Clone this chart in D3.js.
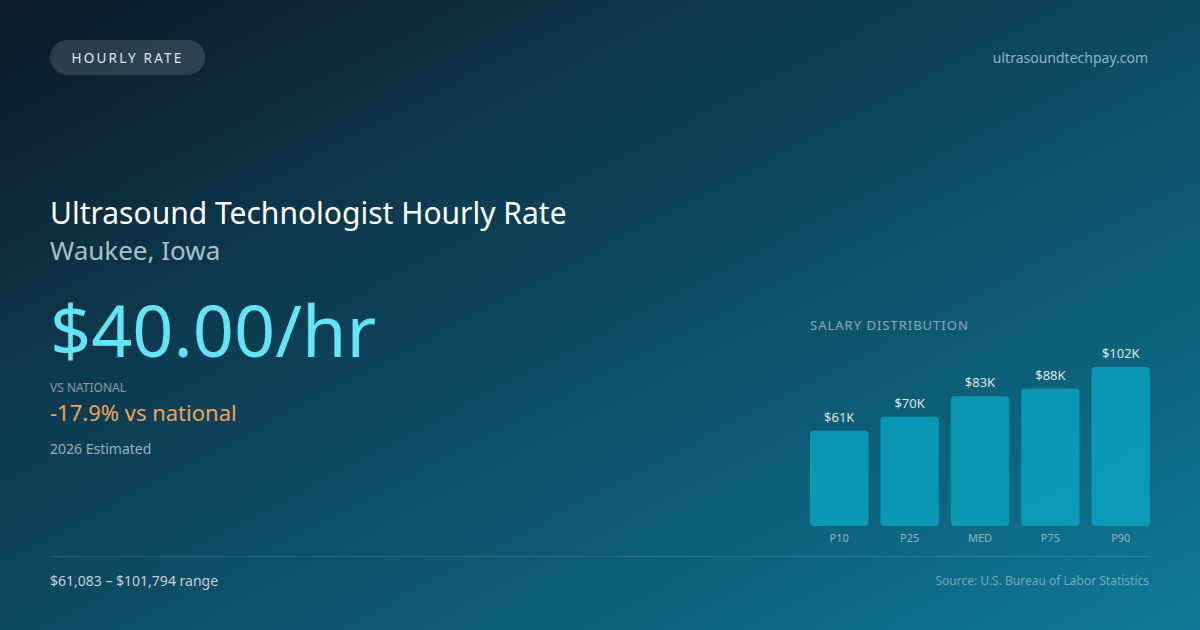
<!DOCTYPE html>
<html><head><meta charset="utf-8">
<script src="https://cdn.jsdelivr.net/npm/d3@7"></script>
<style>html,body{margin:0;padding:0;background:#0f1b2a;}svg{display:block;font-family:"Noto Sans",sans-serif;}</style>
</head><body>
<script>
const categories = ["P10","P25","MED","P75","P90"];
const values = [61083, 70000, 83000, 88000, 101794];
const valueLabels = ["$61K","$70K","$83K","$88K","$102K"];

const W = 1200, H = 630;
const svg = d3.select("body").append("svg").attr("width", W).attr("height", H);
const defs = svg.append("defs");
const g = defs.append("linearGradient").attr("id","bg").attr("x1","0").attr("y1","0").attr("x2","1").attr("y2","1");
g.append("stop").attr("offset","0%").attr("stop-color","#0d1a28");
g.append("stop").attr("offset","50%").attr("stop-color","#0d4a62");
g.append("stop").attr("offset","100%").attr("stop-color","#0f7a96");
svg.append("rect").attr("width",W).attr("height",H).attr("fill","url(#bg)");

// pill
svg.append("rect").attr("x",50).attr("y",40).attr("width",155).attr("height",35).attr("rx",17.5)
  .attr("fill","rgba(255,255,255,0.13)");
svg.append("text").attr("x",127.5).attr("y",62.5).attr("text-anchor","middle")
  .attr("font-size",13.5).attr("letter-spacing","2.2").attr("fill","#dfe8ee").text("HOURLY RATE");

svg.append("text").attr("x",1148).attr("y",63).attr("text-anchor","end").attr("font-size",14)
  .attr("fill","#86b6c8").text("ultrasoundtechpay.com");

svg.append("text").attr("x",50).attr("y",224).attr("font-size",30).attr("fill","#ffffff")
  .text("Ultrasound Technologist Hourly Rate");
svg.append("text").attr("x",50).attr("y",260).attr("font-size",26).attr("fill","#a9c0cc")
  .text("Waukee, Iowa");
svg.append("text").attr("x",50).attr("y",357).attr("font-size",72).attr("fill","#67e3f7")
  .text("$40.00/hr");
svg.append("text").attr("x",50).attr("y",392).attr("font-size",12).attr("fill","rgba(255,255,255,0.5)")
  .text("VS NATIONAL");
svg.append("text").attr("x",50).attr("y",421).attr("font-size",22).attr("fill","#eea35c")
  .text("-17.9% vs national");
svg.append("text").attr("x",50).attr("y",454).attr("font-size",14).attr("fill","#97afbc")
  .text("2026 Estimated");

// chart
svg.append("text").attr("x",810).attr("y",330).attr("font-size",13).attr("letter-spacing","1")
  .attr("fill","rgba(255,255,255,0.5)").text("SALARY DISTRIBUTION");

const x = d3.scaleBand().domain(categories).range([810,1150]).paddingInner(0.17).paddingOuter(0);
const y = d3.scaleLinear().domain([0, d3.max(values)]).range([526, 367]);

const bars = svg.append("g");
bars.selectAll("rect").data(values).join("rect")
  .attr("x",(d,i)=>x(categories[i])).attr("width",x.bandwidth())
  .attr("y",d=>y(d)).attr("height",d=>y(0)-y(d)).attr("rx",4)
  .attr("fill","#0aa5c2").attr("fill-opacity",0.8);
bars.selectAll("text.v").data(values).join("text").attr("class","v")
  .attr("x",(d,i)=>x(categories[i])+x.bandwidth()/2).attr("y",d=>y(d)-9)
  .attr("text-anchor","middle").attr("font-size",13).attr("fill","#d8e6ec")
  .text((d,i)=>valueLabels[i]);

const xAxis = svg.append("g").attr("transform","translate(0,526)")
  .call(d3.axisBottom(x).tickSize(0).tickPadding(8));
xAxis.select(".domain").remove();
xAxis.selectAll("text").attr("font-size",11).attr("font-family","Noto Sans, sans-serif").attr("fill","rgba(255,255,255,0.5)");

svg.append("line").attr("x1",50).attr("x2",1150).attr("y1",556.5).attr("y2",556.5)
  .attr("stroke","rgba(255,255,255,0.12)").attr("stroke-width",1);

svg.append("text").attr("x",50).attr("y",586).attr("font-size",14).attr("fill","#c2d2db")
  .text("$61,083 – $101,794 range");
svg.append("text").attr("x",1149).attr("y",585).attr("text-anchor","end").attr("font-size",12)
  .attr("fill","rgba(255,255,255,0.42)").text("Source: U.S. Bureau of Labor Statistics");
</script>
</body></html>
